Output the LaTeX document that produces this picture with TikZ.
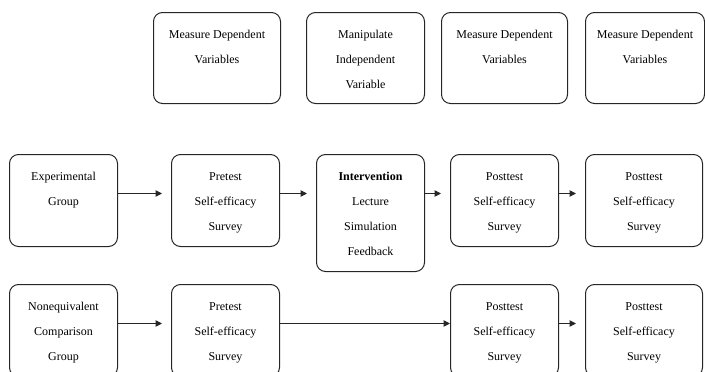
\documentclass[tikz,border=0pt]{standalone}
\usepackage{fontspec}
\setmainfont{Liberation Serif}
\usetikzlibrary{arrows.meta}

% box text: fixed height, lines from the top
\newcommand{\stagetxt}[3]{%
  \parbox[c][#1][t]{#2}{\centering\setlength{\baselineskip}{25pt}\rule{0pt}{26pt}#3\par}}

\tikzset{
  stagebox/.style={draw=black!85, rounded corners=9pt, inner sep=0pt, anchor=north west, line width=1pt},
  flow/.style={-{Triangle[length=6.5pt,width=6.5pt]}, line width=1pt, draw=black!85, shorten >=9pt}
}

\begin{document}
\begin{tikzpicture}[x=1pt, y=-1pt, font=\fontsize{12}{25}\selectfont]
\clip (0,0) rectangle (705,372);

% Top row: what each step does
\node[stagebox] (mdv1) at (153,12) {\stagetxt{91pt}{127pt}{Measure Dependent\\Variables}};
\node[stagebox] (miv)  at (306,12) {\stagetxt{91pt}{118pt}{Manipulate\\Independent\\Variable}};
\node[stagebox] (mdv2) at (441,12) {\stagetxt{91pt}{126pt}{Measure Dependent\\Variables}};
\node[stagebox] (mdv3) at (585,12) {\stagetxt{91pt}{119pt}{Measure Dependent\\Variables}};

% Experimental group
\node[stagebox] (exp)   at (9,154)   {\stagetxt{92pt}{108pt}{Experimental\\Group}};
\node[stagebox] (pre1)  at (171,154) {\stagetxt{92pt}{108pt}{Pretest\\Self-efficacy\\Survey}};
\node[stagebox] (int)   at (316,154) {\stagetxt{117pt}{108pt}{\textbf{Intervention}\\Lecture\\Simulation\\Feedback}};
\node[stagebox] (post1) at (450,154) {\stagetxt{92pt}{108pt}{Posttest\\Self-efficacy\\Survey}};
\node[stagebox] (post2) at (585,154) {\stagetxt{92pt}{117pt}{Posttest\\Self-efficacy\\Survey}};

\draw[flow] ([yshift=7pt]exp.east)   -- ([yshift=7pt]exp.east -| pre1.west);
\draw[flow] ([yshift=7pt]pre1.east)  -- ([yshift=7pt]pre1.east -| int.west);
\draw[flow] ([yshift=7pt]post1.east -| int.east) -- ([yshift=7pt]post1.west);
\draw[flow] ([yshift=7pt]post1.east) -- ([yshift=7pt]post2.west);

% Comparison group
\node[stagebox] (non)   at (9,284)   {\stagetxt{92pt}{108pt}{Nonequivalent\\Comparison\\Group}};
\node[stagebox] (pre2)  at (171,284) {\stagetxt{92pt}{108pt}{Pretest\\Self-efficacy\\Survey}};
\node[stagebox] (post3) at (450,284) {\stagetxt{92pt}{108pt}{Posttest\\Self-efficacy\\Survey}};
\node[stagebox] (post4) at (585,284) {\stagetxt{92pt}{117pt}{Posttest\\Self-efficacy\\Survey}};

\draw[flow] ([yshift=7pt]non.east)   -- ([yshift=7pt]pre2.west);
\draw[flow, shorten >=0pt] ([yshift=7pt]pre2.east) -- ([yshift=7pt]post3.west);
\draw[flow] ([yshift=7pt]post3.east) -- ([yshift=7pt]post4.west);
\end{tikzpicture}
\end{document}
